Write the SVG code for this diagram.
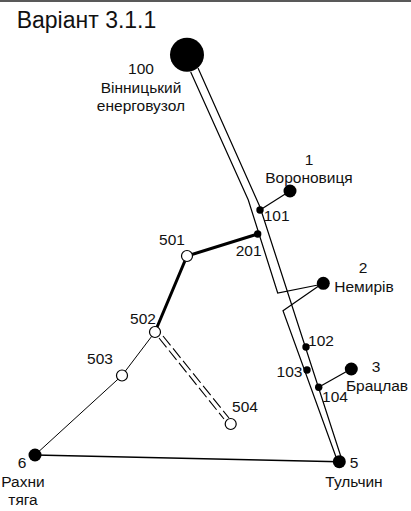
<svg xmlns="http://www.w3.org/2000/svg" width="411" height="511" viewBox="0 0 411 511">
<style>
text{font-family:"Liberation Sans",Arial,sans-serif;font-size:15.5px;fill:#111;text-anchor:middle}
.l{fill:none;stroke:#000;stroke-width:1.2}
.n{fill:none;stroke:#000;stroke-width:1}
.b{fill:none;stroke:#000;stroke-width:1.6}
.t{fill:none;stroke:#000;stroke-width:3}
.d{fill:none;stroke:#000;stroke-width:1.1;stroke-dasharray:12 4}
.f{fill:#000}
.o{fill:#fff;stroke:#000;stroke-width:1.2}
</style>
<rect width="411" height="511" fill="#fff"/>
<line x1="0" y1="1" x2="411" y2="1" stroke="#222" stroke-width="1.6"/>
<text id="title" x="86.5" y="27.5" style="font-size:23px">Варіант 3.1.1</text>
<g id="connectors">
<polyline class="l" points="190.7,72 248.3,200 277.7,293 318,285"/>
<polyline class="l" points="198,68 260,207 341,457"/>
<polyline class="l" points="323,283 283,310.7 336,457"/>
<line class="l" x1="260" y1="210" x2="290" y2="191"/>
<line class="l" x1="319" y1="387" x2="351" y2="369"/>
<polyline class="t" points="257.7,234 187,256 155,332"/>
<polyline class="n" points="155,332 122,375.5 35,455"/>
<line class="b" x1="35" y1="455" x2="339" y2="461.7"/>
<line class="d" x1="159" y1="338" x2="224" y2="419"/>
<line class="d" x1="163" y1="336" x2="229" y2="418"/>
</g>
<g id="n100"><circle class="f" cx="187" cy="54.7" r="17"/><text x="141" y="74">100</text><text x="141" y="93">Вінницький</text><text x="141" y="111">енерговузол</text></g>
<g id="n1"><circle class="f" cx="290" cy="191" r="6.5"/><text x="309" y="165">1</text><text x="309" y="183">Вороновиця</text></g>
<g id="n101"><circle class="f" cx="260" cy="210" r="3.7"/><text x="276.7" y="220.7">101</text></g>
<g id="n201"><circle class="f" cx="257.7" cy="234" r="3.7"/><text x="248.7" y="256">201</text></g>
<g id="n2"><circle class="f" cx="323.3" cy="283.3" r="6.5"/><text x="363" y="272.7">2</text><text x="364" y="291.7">Немирів</text></g>
<g id="n102"><circle class="f" cx="306" cy="347" r="3.7"/><text x="321" y="346">102</text></g>
<g id="n103"><circle class="f" cx="307" cy="370" r="3.7"/><text x="289.5" y="376.7">103</text></g>
<g id="n104"><circle class="f" cx="318.7" cy="387.3" r="3.7"/><text x="335" y="402">104</text></g>
<g id="n3"><circle class="f" cx="351.3" cy="369" r="6.5"/><text x="376" y="372">3</text><text x="377" y="390.7">Брацлав</text></g>
<g id="n5"><circle class="f" cx="339.3" cy="461.7" r="6.5"/><text x="354" y="467.7">5</text><text x="354" y="486.7">Тульчин</text></g>
<g id="n6"><circle class="f" cx="35" cy="455" r="6.5"/><text x="22" y="467.7">6</text><text x="23" y="487">Рахни</text><text x="23" y="505">тяга</text></g>
<g id="n501"><circle class="o" cx="187" cy="256" r="5.5"/><text x="172" y="245">501</text></g>
<g id="n502"><circle class="o" cx="155" cy="332" r="5.5"/><text x="143" y="324">502</text></g>
<g id="n503"><circle class="o" cx="122" cy="375.5" r="5.5"/><text x="100" y="364">503</text></g>
<g id="n504"><circle class="o" cx="230.7" cy="424" r="5.5"/><text x="245" y="412">504</text></g>
</svg>
